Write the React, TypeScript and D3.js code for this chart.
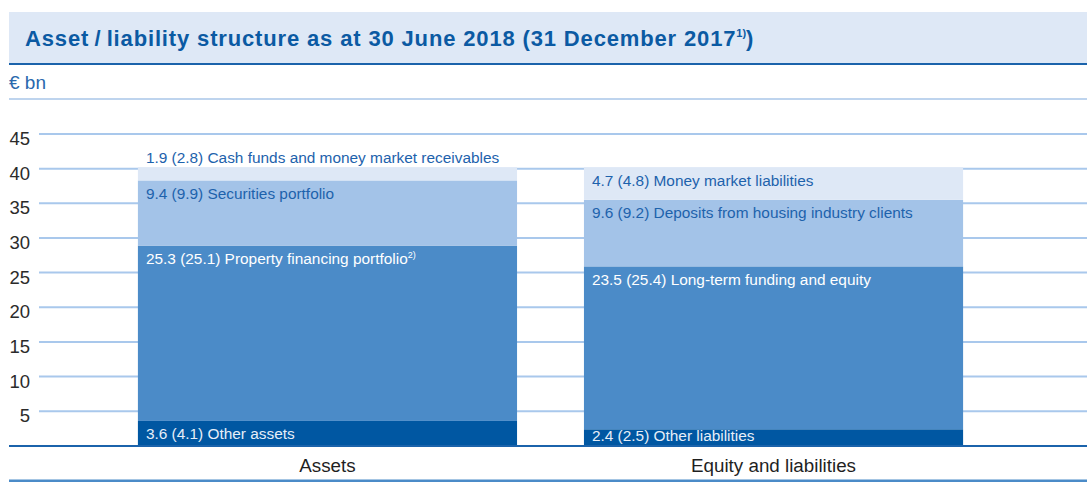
import React from "react";
import * as d3 from "d3";

const categories = ["Assets", "Equity and liabilities"];

const assetValues = [3.6, 25.3, 9.4, 1.9];
const assetPrior = [4.1, 25.1, 9.9, 2.8];
const assetNames = [
  "Other assets",
  "Property financing portfolio",
  "Securities portfolio",
  "Cash funds and money market receivables",
];
const assetNotes = ["", "2)", "", ""];

const liabValues = [2.4, 23.5, 9.6, 4.7];
const liabPrior = [2.5, 25.4, 9.2, 4.8];
const liabNames = [
  "Other liabilities",
  "Long-term funding and equity",
  "Deposits from housing industry clients",
  "Money market liabilities",
];
const liabNotes = ["", "", "", ""];

const yTicks = [5, 10, 15, 20, 25, 30, 35, 40, 45];

const segColors = ["#0057a2", "#4b8bc8", "#a3c3e8", "#dee8f6"];
const segText = ["#e6eef8", "#ffffff", "#1d62ac", "#1d62ac"];

const FONT = "'Liberation Sans', Arial, Helvetica, sans-serif";
const W = 1087;
const H = 492;

const fmt = d3.format(".1f");

export default function App() {
  const y = d3.scaleLinear().domain([0, 45]).range([445.9, 134]);
  const x = d3
    .scaleBand<string>()
    .domain(categories)
    .range([71, 1030])
    .paddingInner(0.15)
    .paddingOuter(0.15);

  const series = [
    { values: assetValues, prior: assetPrior, names: assetNames, notes: assetNotes },
    { values: liabValues, prior: liabPrior, names: liabNames, notes: liabNotes },
  ];

  return (
    <svg
      width={W}
      height={H}
      style={{ position: "absolute", left: 0, top: 0, fontFamily: FONT }}
    >
      {/* title band */}
      <rect x={9} y={12} width={W - 9} height={52} fill="#dee8f6" />
      <line x1={9} x2={W} y1={64} y2={64} stroke="#1b63ab" strokeWidth={2} />
      <text x={25} y={46} fontSize={22} fontWeight="bold" fill="#0b5aa3" letterSpacing={0.85}>
        {"Asset\u2009/\u2009liability structure as at 30 June 2018 (31 December 2017"}
        <tspan fontSize={11} dy={-9} letterSpacing={0}>1)</tspan>
        <tspan dy={9}>)</tspan>
      </text>
      <text x={9} y={89} fontSize={19} fill="#2a68ad">
        € bn
      </text>
      <line x1={9} x2={W} y1={99} y2={99} stroke="#a9c6e8" strokeWidth={1.5} />

      {/* gridlines and ticks */}
      {yTicks.map((t) => (
        <g key={t}>
          <line x1={39} x2={W} y1={y(t)} y2={y(t)} stroke="#a9c8ec" strokeWidth={2} />
          <text x={30} y={y(t) + 11} fontSize={18.5} textAnchor="end" fill="#2b2b2b">
            {t}
          </text>
        </g>
      ))}

      {/* bars */}
      {series.map((s, ci) => {
        const cat = categories[ci];
        const x0 = x(cat)!;
        const bw = x.bandwidth();
        const tops = d3.cumsum(s.values);
        return (
          <g key={cat}>
            {s.values.map((v, i) => {
              const yTop = y(tops[i]);
              const yBot = y(tops[i] - v);
              return (
                <rect
                  key={i}
                  x={x0}
                  y={yTop}
                  width={bw}
                  height={yBot - yTop}
                  fill={segColors[i]}
                />
              );
            })}
            {s.values.map((v, i) => {
              const yTop = y(tops[i]);
              const yBot = y(tops[i] - v);
              const h = yBot - yTop;
              const above = i === s.values.length - 1 && h < 15;
              const base = above ? yTop - 4 : Math.min(yTop + 18.5, yBot - 5);
              return (
                <text
                  key={"t" + i}
                  x={x0 + 8}
                  y={base}
                  fontSize={15.4}
                  fill={above ? "#1d62ac" : segText[i]}
                >
                  {`${fmt(v)} (${fmt(s.prior[i])}) ${s.names[i]}`}
                  {s.notes[i] ? (
                    <tspan fontSize={9} dy={-6}>
                      {s.notes[i]}
                    </tspan>
                  ) : null}
                </text>
              );
            })}
            <text
              x={x0 + bw / 2}
              y={471.5}
              fontSize={18.8}
              textAnchor="middle"
              fill="#1f1f1f"
            >
              {cat}
            </text>
          </g>
        );
      })}

      {/* baseline and bottom rule */}
      <line x1={9} x2={W} y1={y(0)} y2={y(0)} stroke="#1b63ab" strokeWidth={2} />
      <line x1={9} x2={W} y1={480.7} y2={480.7} stroke="#4b8bc8" strokeWidth={2.5} />
    </svg>
  );
}
